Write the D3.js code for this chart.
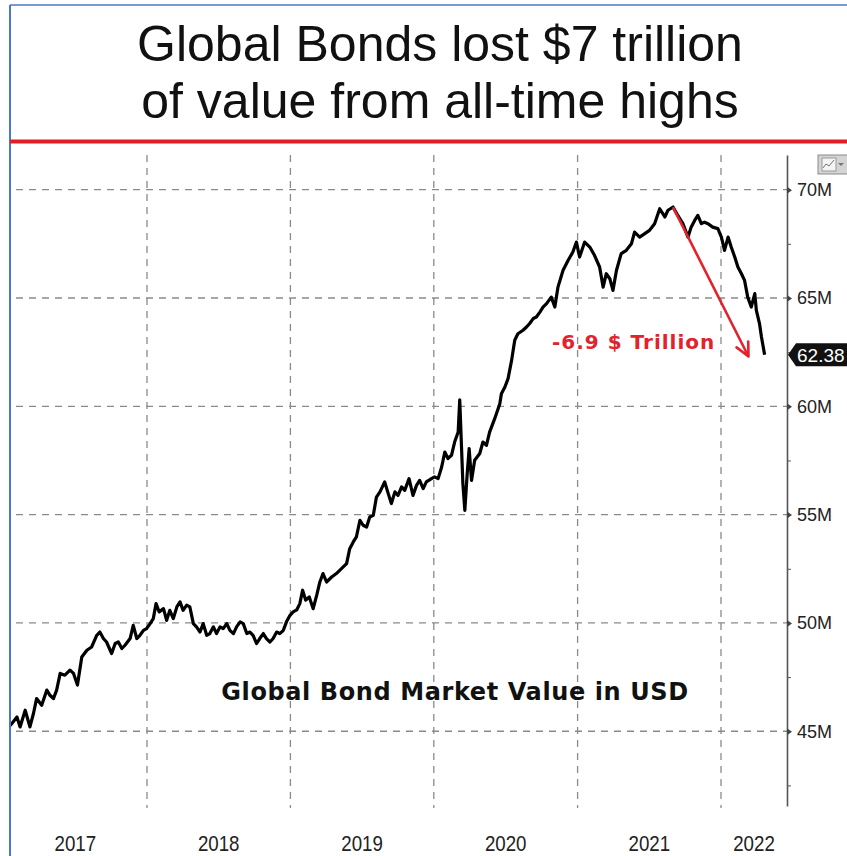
<!DOCTYPE html>
<html>
<head>
<meta charset="utf-8">
<script src="https://cdn.jsdelivr.net/npm/d3@7"></script>
<style>
  html, body { margin: 0; padding: 0; background: #fff; }
  svg { display: block; }
</style>
</head>
<body>
<svg id="chart"></svg>
<script>

const width = 847, height = 856;
const plotLeft = 10, plotRight = 787, plotTop = 155, plotBottom = 806;

const dates = [
  "2017-01-17","2017-01-22","2017-02-04","2017-02-12","2017-02-25","2017-03-09","2017-03-18","2017-03-26","2017-04-08","2017-04-21","2017-04-29","2017-05-08","2017-05-16","2017-05-25","2017-06-06","2017-06-19","2017-06-28","2017-07-08","2017-07-19","2017-08-01","2017-08-13","2017-08-26","2017-09-03","2017-09-12","2017-09-20","2017-10-03","2017-10-12","2017-10-20","2017-10-29","2017-11-06","2017-11-19","2017-11-27","2017-12-06","2017-12-14","2017-12-23","2017-12-31",
  "2018-01-09","2018-01-17","2018-01-24","2018-02-01","2018-02-12","2018-02-20","2018-02-28","2018-03-09","2018-03-18","2018-03-26","2018-04-03","2018-04-12","2018-04-20","2018-04-29","2018-05-07","2018-05-16","2018-05-24","2018-06-02","2018-06-10","2018-06-19","2018-06-27","2018-07-06","2018-07-14","2018-07-23","2018-07-31","2018-08-09","2018-08-17","2018-08-26","2018-09-03","2018-09-12","2018-09-20","2018-09-28","2018-10-07","2018-10-15","2018-10-24","2018-11-01","2018-11-10","2018-11-18","2018-11-27","2018-12-05","2018-12-14","2018-12-22","2018-12-31",
  "2019-01-08","2019-01-17","2019-01-25","2019-02-01","2019-02-09","2019-02-18","2019-02-28","2019-03-09","2019-03-17","2019-03-25","2019-04-03","2019-04-16","2019-04-28","2019-05-11","2019-05-24","2019-06-01","2019-06-10","2019-06-18","2019-06-27","2019-07-05","2019-07-14","2019-07-22","2019-07-31","2019-08-08","2019-08-17","2019-08-29","2019-09-07","2019-09-15","2019-09-24","2019-10-02","2019-10-11","2019-10-19","2019-10-30","2019-11-09","2019-11-18","2019-11-26","2019-12-05","2019-12-13","2019-12-26",
  "2020-01-03","2020-01-12","2020-01-21","2020-01-29","2020-02-06","2020-02-15","2020-02-23","2020-03-03","2020-03-07","2020-03-15","2020-03-20","2020-03-26","2020-03-31","2020-04-06","2020-04-14","2020-04-27","2020-05-05","2020-05-14","2020-05-22","2020-06-04","2020-06-17","2020-06-21","2020-06-30","2020-07-08","2020-07-17","2020-07-25","2020-08-02","2020-08-15","2020-08-24","2020-09-01","2020-09-10","2020-09-18","2020-09-27","2020-10-05","2020-10-14","2020-10-26","2020-11-04","2020-11-12","2020-11-25","2020-12-08","2020-12-20","2020-12-29",
  "2021-01-06","2021-01-19","2021-02-01","2021-02-13","2021-02-26","2021-03-07","2021-03-15","2021-03-24","2021-04-01","2021-04-10","2021-04-22","2021-05-05","2021-05-18","2021-05-26","2021-06-08","2021-06-21","2021-07-03","2021-07-16","2021-07-29","2021-08-11","2021-08-19","2021-09-01","2021-09-13","2021-09-26","2021-10-09","2021-10-17","2021-10-26","2021-11-03","2021-11-12","2021-11-20","2021-11-29","2021-12-11","2021-12-24",
  "2022-01-02","2022-01-10","2022-01-19","2022-01-27","2022-02-05","2022-02-13","2022-02-22","2022-03-02","2022-03-10","2022-03-19","2022-03-28","2022-04-01","2022-04-09","2022-04-14","2022-04-22"
];

// Marktwert in Mio. USD (Achse in "M")
const values = [
  45.25,45.36,45.66,45.2,45.97,45.2,45.82,46.51,46.2,46.9,46.66,46.51,46.9,47.67,47.59,47.82,47.67,47.13,48.43,48.74,48.89,49.43,49.58,49.28,49.12,48.59,49.05,49.12,48.82,48.97,49.28,49.89,49.28,49.43,49.66,49.74,
  49.97,50.2,50.89,50.51,50.66,50.12,50.58,50.2,50.74,50.97,50.58,50.82,50.74,49.97,49.82,49.58,49.97,49.43,49.51,49.82,49.51,49.82,49.74,49.97,49.66,49.51,49.82,50.05,49.97,49.51,49.58,49.43,49.05,49.28,49.51,49.28,49.12,49.28,49.58,49.51,49.66,50.05,50.35,
  50.51,50.6,50.89,51.51,51.05,51.2,50.66,51.28,51.89,52.28,51.89,52.12,52.28,52.51,52.74,53.43,53.74,53.97,54.74,54.51,54.43,54.89,54.97,55.81,56.05,56.51,55.97,55.51,56.05,55.89,56.28,56.12,56.66,55.89,56.35,56.58,56.2,56.51,56.66,
  56.74,56.66,57.2,57.89,57.59,57.74,58.35,58.81,60.3,56.43,55.2,56.89,58.05,56.58,57.51,57.82,58.35,58.2,58.81,59.43,60.12,60.58,60.89,61.28,62.12,63.05,63.35,63.51,63.66,63.82,64.05,64.12,64.35,64.58,64.74,65.04,64.58,65.5,66.28,66.74,67.12,67.58,
  66.89,67.58,67.35,66.97,66.43,65.5,66.12,65.89,65.35,66.28,67.05,67.2,67.5,68.04,67.81,67.97,68.12,68.43,69.12,68.74,69.05,69.2,68.81,68.43,67.81,68.27,68.58,68.81,68.43,68.5,68.43,68.27,68.2,
  67.81,67.2,67.81,67.35,66.89,66.43,66.12,65.81,65.04,64.58,65.2,64.43,63.82,63.2,62.38
];

const yTicks      = [45, 50, 55, 60, 65, 70];
const yMinorTicks = [42.5, 47.5, 52.5, 57.5, 62.5, 67.5];
const yearStarts  = ["2017-01-01", "2018-01-01", "2019-01-01", "2020-01-01", "2021-01-01", "2022-01-01"];
const yearLabels  = ["2017", "2018", "2019", "2020", "2021", "2022"];
const lastLabel   = "62.38";

// Pfeil vom Allzeithoch zum letzten Stand
const arrowFrom = { date: "2021-09-02", value: 69.15 };
const arrowTo   = { date: "2022-03-12", value: 62.3 };

const parse = d3.timeParse("%Y-%m-%d");
const data = dates.map((d, i) => ({ date: parse(d), value: values[i] }));

const svg = d3.select("#chart")
  .attr("width", width)
  .attr("height", height)
  .attr("viewBox", `0 0 ${width} ${height}`);

const x = d3.scaleTime()
  .domain([parse("2018-01-01"), parse("2022-01-01")])
  .range([147, 721]);

const y = d3.scaleLinear()
  .domain([41.55, 71.6])
  .range([plotBottom, plotTop]);

// Rahmen + Titel
svg.append("rect").attr("width", width).attr("height", height).attr("fill", "#fff");
svg.append("line")
  .attr("x1", plotLeft).attr("x2", width).attr("y1", 5).attr("y2", 5)
  .attr("stroke", "#4a78c8").attr("stroke-width", 1.5);
svg.append("line")
  .attr("x1", plotLeft).attr("x2", plotLeft).attr("y1", 5).attr("y2", height)
  .attr("stroke", "#4a78c8").attr("stroke-width", 2);

const title = svg.append("text")
  .attr("text-anchor", "middle")
  .attr("font-family", "'Liberation Sans', Arial, sans-serif")
  .attr("font-size", 50)
  .attr("fill", "#111");
title.append("tspan").attr("x", 440).attr("y", 61).text("Global Bonds lost $7 trillion");
title.append("tspan").attr("x", 440).attr("y", 118).text("of value from all-time highs");

svg.append("line")
  .attr("x1", plotLeft).attr("x2", width).attr("y1", 141.5).attr("y2", 141.5)
  .attr("stroke", "#e11d27").attr("stroke-width", 4);

// Gitter
const grid = svg.append("g")
  .attr("stroke", "#8a8a8a")
  .attr("stroke-width", 1.3)
  .attr("stroke-dasharray", "7,6");

grid.selectAll("line.h")
  .data(yTicks)
  .join("line")
  .attr("class", "h")
  .attr("x1", plotLeft + 6).attr("x2", plotRight)
  .attr("y1", d => y(d)).attr("y2", d => y(d));

grid.selectAll("line.v")
  .data(yearStarts.slice(1))
  .join("line")
  .attr("class", "v")
  .attr("x1", d => x(parse(d))).attr("x2", d => x(parse(d)))
  .attr("y1", plotTop).attr("y2", plotBottom + 2);

// Linie
svg.append("clipPath").attr("id", "plotclip")
  .append("rect")
  .attr("x", plotLeft + 1).attr("y", 144)
  .attr("width", plotRight - plotLeft - 1).attr("height", plotBottom - 144);

const line = d3.line()
  .x(d => x(d.date))
  .y(d => y(d.value));

svg.append("path")
  .datum(data)
  .attr("clip-path", "url(#plotclip)")
  .attr("fill", "none")
  .attr("stroke", "#000")
  .attr("stroke-width", 3.2)
  .attr("stroke-linejoin", "round")
  .attr("d", line);

// rechte Achse
const yAxis = svg.append("g")
  .attr("transform", `translate(${plotRight},0)`)
  .call(d3.axisRight(y).tickValues(yTicks).tickFormat(d => d + "M").tickSize(0).tickPadding(10).tickSizeOuter(0));
yAxis.select(".domain").attr("stroke", "#555").attr("stroke-width", 1.6);
yAxis.selectAll(".tick text")
  .attr("font-family", "'Liberation Sans', Arial, sans-serif")
  .attr("font-size", 18)
  .attr("fill", "#222");
yAxis.selectAll(".tick").append("path")
  .attr("d", "M0,-3.5L5,0L0,3.5Z")
  .attr("fill", "#444");

svg.append("g")
  .attr("transform", `translate(${plotRight},0)`)
  .call(d3.axisRight(y).tickValues(yMinorTicks).tickFormat("").tickSize(4).tickSizeOuter(0))
  .call(g => g.select(".domain").remove())
  .selectAll(".tick line").attr("stroke", "#555");

// letzter Wert
const ly = y(values[values.length - 1]);
svg.append("path")
  .attr("d", `M${plotRight + 1},${ly} L${plotRight + 9},${ly - 11.5} L${width},${ly - 11.5} L${width},${ly + 11.5} L${plotRight + 9},${ly + 11.5} Z`)
  .attr("fill", "#111");
svg.append("text")
  .attr("x", plotRight + 10)
  .attr("y", ly + 7)
  .attr("font-family", "'Liberation Sans', Arial, sans-serif")
  .attr("font-size", 19)
  .attr("fill", "#fff")
  .text(lastLabel);

// Jahresbeschriftung (mittig im Jahr)
const yearCenters = yearStarts.map((d, i) => {
  const a = x(parse(d));
  const b = i < yearStarts.length - 1 ? x(parse(yearStarts[i + 1])) : plotRight;
  return (a + b) / 2;
});
svg.append("g")
  .selectAll("text")
  .data(yearLabels)
  .join("text")
  .attr("transform", (d, i) => `translate(${yearCenters[i]},851) scale(0.85,1)`)
  .attr("text-anchor", "middle")
  .attr("font-family", "'Liberation Sans', Arial, sans-serif")
  .attr("font-size", 22)
  .attr("fill", "#222")
  .text(d => d);

// Menü-Symbol oben rechts
const icon = svg.append("g").attr("transform", "translate(818,155)");
icon.append("rect").attr("width", 32).attr("height", 19).attr("fill", "#d4d4d4").attr("stroke", "#8a8a8a");
icon.append("rect").attr("x", 4).attr("y", 3).attr("width", 14).attr("height", 13).attr("fill", "#f4f4f4").attr("stroke", "#9a9a9a");
icon.append("polyline").attr("points", "5,13 8,9 11,11 16,5").attr("fill", "none").attr("stroke", "#777");
icon.append("path").attr("d", "M20,8L26,8L23,11Z").attr("fill", "#777");

// Annotationen
const red = "#e3222c";
svg.append("text")
  .attr("x", 455)
  .attr("y", 700)
  .attr("text-anchor", "middle")
  .attr("font-family", "'DejaVu Sans', Verdana, sans-serif")
  .attr("font-weight", "bold")
  .attr("font-size", 24)
  .attr("letter-spacing", 0.6)
  .attr("fill", "#111")
  .text("Global Bond Market Value in USD");

svg.append("text")
  .attr("x", 552)
  .attr("y", 349)
  .attr("font-family", "'DejaVu Sans', Verdana, sans-serif")
  .attr("font-weight", "bold")
  .attr("font-size", 20)
  .attr("letter-spacing", 1)
  .attr("fill", red)
  .text("-6.9 $ Trillion");

const ax0 = x(parse(arrowFrom.date)), ay0 = y(arrowFrom.value);
const ax1 = x(parse(arrowTo.date)),   ay1 = y(arrowTo.value);
const ang = Math.atan2(ay1 - ay0, ax1 - ax0);
const head = 15, spread = Math.PI / 7;
svg.append("path")
  .attr("d", `M${ax0},${ay0} L${ax1},${ay1}
    M${ax1 - head * Math.cos(ang - spread)},${ay1 - head * Math.sin(ang - spread)} L${ax1},${ay1}
    L${ax1 - head * Math.cos(ang + spread)},${ay1 - head * Math.sin(ang + spread)}`)
  .attr("fill", "none")
  .attr("stroke", red)
  .attr("stroke-width", 2.6)
  .attr("stroke-linecap", "round")
  .attr("stroke-linejoin", "round");
</script>
</body>
</html>
